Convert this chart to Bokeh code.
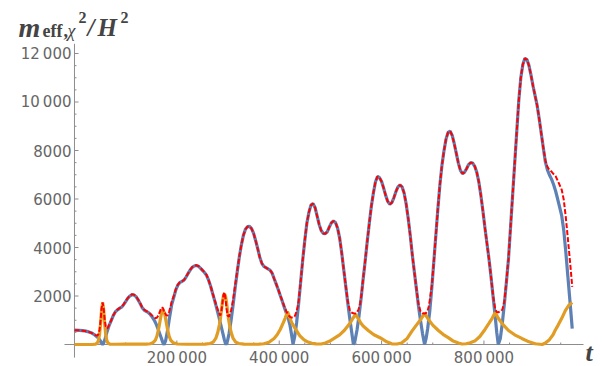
from bokeh.plotting import figure
from bokeh.models import Range1d, Label
from bokeh.core.properties import value
from bokeh.embed import file_html
from bokeh.resources import INLINE

# ---- data (t in thousands, value) ----
blue_pts = [(0,590),(10,585),(20,560),(28,520),(34,470),(38,420),(42,350),(45,300),(48,230),(50,170),(52,100),(54,30),(55,0),(57,60),(60,250),(64,550),(68,800),(72,1000),(76,1200),(80,1350),(84,1430),(88,1490),(92,1540),(96,1640),(100,1770),(104,1900),(108,2000),(112,2050),(116,2040),(120,1980),(124,1850),(128,1700),(132,1530),(136,1420),(140,1370),(144,1320),(148,1240),(152,1130),(156,1000),(160,820),(164,600),(168,360),(171,180),(173,60),(175,0),(178,150),(182,600),(186,1150),(190,1650),(194,1950),(198,2250),(202,2450),(206,2560),(210,2600),(214,2650),(218,2780),(222,2930),(226,3070),(230,3180),(234,3240),(238,3260),(242,3230),(246,3150),(250,3060),(254,2970),(258,2850),(262,2650),(266,2400),(270,2100),(274,1800),(278,1480),(282,1150),(286,800),(290,450),(293,180),(295,40),(296,0),(299,150),(302,450),(306,1000),(310,1650),(314,2350),(318,3000),(322,3600),(326,4100),(330,4500),(334,4750),(338,4860),(342,4870),(346,4780),(350,4580),(354,4280),(358,3950),(362,3600),(366,3350),(370,3220),(374,3170),(378,3120),(382,3070),(386,2950),(390,2720),(394,2500),(398,2270),(402,2020),(406,1780),(410,1530),(414,1290),(418,1050),(421,800),(424,420),(426,150),(427,0),(430,300),(434,900),(438,1700),(442,2600),(446,3500),(450,4300),(454,5000),(458,5450),(462,5750),(466,5810),(470,5650),(474,5300),(478,4950),(482,4700),(486,4580),(490,4570),(494,4650),(498,4850),(502,5020),(506,5090),(510,5030),(514,4800),(518,4400),(522,3800),(526,3100),(530,2400),(534,1700),(538,1050),(541,600),(543,300),(545,0),(548,150),(552,600),(556,1200),(560,1900),(564,2700),(568,3450),(572,4250),(576,5000),(580,5700),(584,6250),(588,6700),(592,6930),(596,6880),(600,6720),(604,6450),(608,6150),(612,5900),(616,5780),(620,5850),(624,6050),(628,6300),(632,6500),(636,6580),(640,6500),(644,6250),(648,5800),(652,5200),(656,4500),(660,3700),(664,3000),(668,2300),(672,1600),(676,1000),(680,450),(684,0),(687,250),(690,650),(694,1350),(698,2300),(702,3400),(706,4500),(710,5600),(714,6600),(718,7400),(722,8000),(726,8480),(730,8750),(734,8800),(738,8620),(742,8280),(746,7880),(750,7480),(754,7180),(758,7050),(762,7100),(766,7250),(770,7420),(774,7500),(778,7480),(782,7350),(786,7100),(790,6700),(794,6150),(798,5500),(802,4800),(806,4150),(810,3500),(814,2750),(818,1950),(822,1150),(825,500),(828,0),(832,250),(836,900),(840,1700),(844,2600),(848,3550),(852,4850),(856,6150),(860,7450),(864,8750),(868,10050),(872,11000),(876,11550),(880,11800),(884,11750),(888,11500),(892,11100),(896,10650),(900,10250),(904,9850),(908,9300),(912,8700),(916,8100),(920,7530),(924,7200),(928,6990),(932,6820),(936,6600),(940,6330),(944,6000),(948,5650),(952,5300),(956,4700),(960,3800),(964,2800),(968,1800),(972.5,650)]

orange_pts = [(0,0),(35,0),(41,14),(45,76),(47,183),(49,420),(51,850),(53,1436),(55,1730),(57,1436),(59,850),(61,420),(63,183),(65,76),(69,14),(80,10),(100,15),(120,20),(140,15),(148,30),(153,70),(158,180),(161,340),(164,600),(167,950),(170,1290),(173,1440),(176,1290),(179,950),(182,600),(185,340),(188,180),(193,70),(201,20),(220,10),(240,10),(255,15),(265,40),(271,100),(276,250),(280,500),(283,800),(285,1050),(287,1400),(289,1750),(291,2000),(293,2100),(295,2000),(297,1750),(299,1400),(301,1050),(303,800),(306,500),(310,250),(315,100),(321,40),(331,15),(350,10),(360,15),(370,30),(380,90),(390,250),(396,400),(402,620),(408,900),(412,1100),(416,1360),(420,1150),(424,920),(428,770),(432,630),(440,370),(448,200),(456,100),(464,50),(472,25),(482,20),(490,60),(498,130),(508,260),(518,400),(527,577),(534,760),(539,900),(544,1080),(549,1240),(554,1080),(559,900),(564,760),(574,577),(585,400),(600,247),(610,110),(620,30),(630,20),(639,60),(650,250),(659,540),(668,800),(676,1020),(684,1280),(692,1020),(700,800),(711,577),(720,420),(731,275),(740,140),(750,60),(757,20),(765,30),(773,70),(782,140),(792,330),(802,620),(810,880),(816,1080),(822,1320),(828,1080),(836,850),(848,577),(860,400),(874,250),(888,110),(900,30),(914,0),(920,60),(928,200),(935,400),(939,577),(945,800),(952,1080),(959,1400),(966,1620),(972.5,1730)]

red_pts = [(0,590),(10,585),(20,560),(28,520),(34,470),(38,420),(41,382),(45,376),(47,436),(49,620),(51,985),(53,1501),(55,1730),(57,1496),(59,1037),(61,745),(63,658),(65,688),(69,864),(72,1010),(76,1210),(80,1360),(84,1440),(88,1500),(92,1550),(96,1655),(100,1785),(104,1915),(108,2018),(112,2068),(116,2060),(120,2000),(124,1868),(128,1717),(132,1545),(136,1435),(140,1385),(144,1337),(148,1270),(153,1170),(156,1115),(158,1090),(161,1105),(164,1200),(167,1370),(170,1530),(173,1500),(175,1340),(176,1340),(179,1210),(182,1200),(185,1360),(188,1580),(190,1770),(194,2000),(198,2280),(202,2470),(206,2575),(210,2612),(214,2660),(218,2790),(222,2940),(226,3080),(230,3190),(234,3250),(238,3270),(242,3240),(246,3160),(250,3070),(254,2983),(258,2870),(262,2660),(266,2410),(270,2110),(274,1830),(278,1560),(282,1300),(285,1200),(287,1350),(289,1700),(291,2050),(293,2150),(295,1900),(297,1500),(299,1200),(302,1150),(306,1400),(310,1850),(314,2450),(318,3030),(322,3620),(326,4100),(330,4500),(334,4750),(338,4860),(342,4870),(346,4780),(350,4580),(354,4280),(358,3950),(362,3600),(366,3350),(370,3220),(374,3170),(378,3120),(382,3070),(386,2950),(390,2720),(394,2500),(398,2280),(402,2040),(406,1800),(410,1570),(414,1360),(418,1210),(421,1140),(424,1110),(427,1110),(430,1150),(432,1250),(434,1380),(436,1550),(438,1800),(442,2610),(446,3500),(450,4300),(454,5000),(458,5450),(462,5750),(466,5810),(470,5650),(474,5300),(478,4950),(482,4700),(486,4580),(490,4570),(494,4650),(498,4850),(502,5020),(506,5090),(510,5030),(514,4800),(518,4400),(522,3800),(526,3100),(530,2420),(534,1780),(538,1420),(541,1320),(545,1290),(549,1280),(552,1320),(555,1450),(558,1680),(561,2100),(564,2720),(568,3450),(572,4250),(576,5000),(580,5700),(584,6250),(588,6700),(592,6930),(596,6880),(600,6720),(604,6450),(608,6150),(612,5900),(616,5780),(620,5850),(624,6050),(628,6300),(632,6500),(636,6580),(640,6500),(644,6250),(648,5800),(652,5200),(656,4500),(660,3700),(664,3000),(668,2310),(672,1670),(676,1370),(680,1290),(684,1280),(687,1300),(690,1400),(692,1560),(694,1800),(698,2400),(702,3400),(706,4500),(710,5600),(714,6600),(718,7400),(722,8000),(726,8480),(730,8750),(734,8800),(738,8620),(742,8280),(746,7880),(750,7480),(754,7180),(758,7050),(762,7100),(766,7250),(770,7420),(774,7500),(778,7480),(782,7350),(786,7100),(790,6700),(794,6150),(798,5500),(802,4800),(806,4150),(810,3500),(814,2760),(818,1990),(822,1460),(825,1340),(828,1330),(832,1360),(836,1450),(838,1600),(840,1800),(844,2620),(848,3550),(852,4850),(856,6150),(860,7450),(864,8750),(868,10050),(872,11000),(876,11550),(880,11800),(884,11750),(888,11500),(892,11100),(896,10650),(900,10250),(904,9850),(908,9300),(912,8700),(916,8110),(920,7590),(924,7330),(928,7190),(932,7130),(936,7030),(940,6945),(944,6760),(948,6570),(952,6380),(956,5960),(960,5230),(964,4360),(968,3460),(972.5,2380)]

x_major = [200000, 400000, 600000, 800000]
x_major_labels = ["200\u2009000", "400\u2009000", "600\u2009000", "800\u2009000"]
x_minor = [50000, 100000, 150000, 250000, 300000, 350000, 450000, 500000, 550000,
           650000, 700000, 750000, 850000, 900000, 950000]
y_major = [2000, 4000, 6000, 8000, 10000, 12000]
y_major_labels = ["2000", "4000", "6000", "8000", "10\u2009000", "12\u2009000"]
y_minor = [500, 1000, 1500, 2500, 3000, 3500, 4500, 5000, 5500, 6500, 7000, 7500,
           8500, 9000, 9500, 10500, 11000, 11500]

def unzip(pts):
    return [a * 1000 for a, _ in pts], [b for _, b in pts]

tb, vb = unzip(blue_pts)
to, vo = unzip(orange_pts)
tr, vr = unzip(red_pts)

# ---- layout: axis extents and where they sit in the canvas ----
W, H = 602, 366
AX0, AX1 = -19500, 994500      # x-axis extent (data)
AY0, AY1 = -540, 12400         # y-axis extent (data)
PL, PR = 64, 583               # canvas px of AX0, AX1
PT, PB = 43.3, 357.1           # canvas px of AY1, AY0
ux = (AX1 - AX0) / (PR - PL)   # data units per px
uy = (AY1 - AY0) / (PB - PT)
XR = Range1d(AX0 - PL * ux, AX1 + (W - PR) * ux)
YR = Range1d(AY0 - (H - PB) * uy, AY1 + PT * uy)

p = figure(width=W, height=H, output_backend="svg", toolbar_location=None,
           x_range=XR, y_range=YR, x_axis_location=None, y_axis_location=None,
           min_border=0, min_border_left=0, min_border_right=0,
           min_border_top=0, min_border_bottom=0)
p.outline_line_color = None
p.grid.visible = False
p.background_fill_color = "white"

axis_col = "#8c8c8c"
lab_col = "#666666"

# axes crossing at the origin
p.segment(x0=[AX0, 0], y0=[0, AY0], x1=[AX1, 0], y1=[0, AY1], line_color=axis_col, line_width=1)
# ticks pointing into the plot
p.segment(x0=x_major, y0=[0]*len(x_major), x1=x_major, y1=[4*uy]*len(x_major), line_color=axis_col, line_width=1)
p.segment(x0=x_minor, y0=[0]*len(x_minor), x1=x_minor, y1=[2*uy]*len(x_minor), line_color=axis_col, line_width=1)
p.segment(x0=[0]*len(y_major), y0=y_major, x1=[4*ux]*len(y_major), y1=y_major, line_color=axis_col, line_width=1)
p.segment(x0=[0]*len(y_minor), y0=y_minor, x1=[2*ux]*len(y_minor), y1=y_minor, line_color=axis_col, line_width=1)

# curves
p.line(tb, vb, line_color="#5E81B5", line_width=3.2)
p.line(to, vo, line_color="#E19C24", line_width=3.2)
p.line(tr, vr, line_color="#FF0000", line_width=2, line_dash="5 2")

# tick labels
p.text(x=x_major, y=[0]*len(x_major), text=x_major_labels, text_font=value("DejaVu Sans"),
       text_font_size="15px", text_color=lab_col, text_align="center", text_baseline="top", y_offset=4)
p.text(x=[0]*len(y_major), y=y_major, text=y_major_labels, text_font=value("DejaVu Sans"),
       text_font_size="15px", text_color=lab_col, text_align="right", text_baseline="middle", x_offset=-3)

def dx(px):
    return XR.start + px * ux
def dy(py):
    return YR.end - py * uy

serif = "Liberation Serif"
def lab(text, px, py, size, style, color="#444444"):
    p.add_layout(Label(x=dx(px), y=dy(py), text=text, text_font=serif,
                       text_font_size=size, text_font_style=style,
                       text_color=color, text_baseline="alphabetic", text_align="left"))

# y-axis title  m_{eff,chi}^2 / H^2   (canvas px)
lab("m", 18, 27, "28px", "bold italic")
lab("eff", 42, 30, "18px", "bold")
lab(",", 63, 30, "18px", "bold")
lab("\u03c7", 67, 30, "18px", "italic")
lab("2", 78, 17, "16px", "bold")
lab("/", 87, 27, "25px", "bold italic")
lab("H", 97, 27, "25px", "bold italic")
lab("2", 120, 17, "16px", "bold")
# x-axis title
lab("t", 585, 352, "26px", "bold italic")

open("out.html", "w").write(file_html(p, INLINE))
